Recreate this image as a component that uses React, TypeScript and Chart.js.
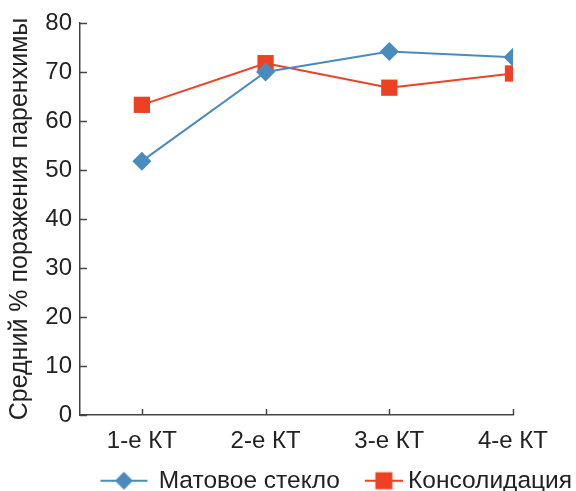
import React, { useEffect, useRef } from "react";
import { Chart, registerables } from "chart.js";

Chart.register(...registerables);

const categories = ["1-е КТ", "2-е КТ", "3-е КТ", "4-е КТ"];
const groundGlass = [51.8, 70.0, 74.2, 73.0];
const consolidation = [63.3, 71.8, 66.8, 69.7];
const seriesNames = ["Матовое стекло", "Консолидация"];
const yTitle = "Средний % поражения паренхимы";

const BLUE = "#4A8BBE";
const RED = "#EE4123";
const FONT = "'Liberation Sans', Arial, sans-serif";
const FS = 24;

// legend icon: image 70px wide, drawn centred in a 56px legend box
function legendIcon(color: string, kind: "diamond" | "square") {
  const c = document.createElement("canvas");
  c.width = 70;
  c.height = 24;
  const ctx = c.getContext("2d")!;
  const x0 = kind === "diamond" ? 17 : 32;
  const x1 = kind === "diamond" ? 64 : 70;
  const cx = (x0 + x1) / 2;
  ctx.strokeStyle = color;
  ctx.lineWidth = 2;
  ctx.beginPath();
  ctx.moveTo(x0, 12);
  ctx.lineTo(x1, 12);
  ctx.stroke();
  ctx.fillStyle = color;
  if (kind === "diamond") {
    ctx.beginPath();
    ctx.moveTo(cx, 3);
    ctx.lineTo(cx + 9, 12);
    ctx.lineTo(cx, 21);
    ctx.lineTo(cx - 9, 12);
    ctx.closePath();
    ctx.fill();
  } else {
    ctx.fillRect(cx - 8.5, 3.5, 17, 17);
  }
  return c;
}

const inwardTicks = {
  id: "inwardTicks",
  afterDraw(chart: any) {
    const ctx = chart.ctx;
    const xs = chart.scales.x;
    const ys = chart.scales.y;
    ctx.save();
    ctx.strokeStyle = "#444";
    ctx.lineWidth = 1.5;
    ys.ticks.forEach((t: any) => {
      const py = Math.round(ys.getPixelForValue(t.value)) + 0.5;
      ctx.beginPath();
      ctx.moveTo(ys.right, py);
      ctx.lineTo(ys.right + 7, py);
      ctx.stroke();
    });
    xs.ticks.forEach((t: any) => {
      const px = Math.round(xs.getPixelForValue(t.value)) + 0.5;
      ctx.beginPath();
      ctx.moveTo(px, xs.top);
      ctx.lineTo(px, xs.top - 6);
      ctx.stroke();
    });
    ctx.restore();
  },
};

export default function App() {
  const ref = useRef<HTMLCanvasElement>(null);
  useEffect(() => {
    const icons = [legendIcon(BLUE, "diamond"), legendIcon(RED, "square")];
    const chart = new Chart(ref.current!, {
      type: "line",
      data: {
        datasets: [
          {
            label: seriesNames[0],
            data: groundGlass.map((v, i) => ({ x: i + 1, y: v })),
            borderColor: BLUE,
            backgroundColor: BLUE,
            borderWidth: 2,
            pointStyle: "rectRot",
            pointRadius: 9.5,
            pointHoverRadius: 9.5,
            pointBorderWidth: 0,
          },
          {
            label: seriesNames[1],
            data: consolidation.map((v, i) => ({ x: i + 1, y: v })),
            borderColor: RED,
            backgroundColor: RED,
            borderWidth: 2,
            pointStyle: "rect",
            pointRadius: 11.5,
            pointHoverRadius: 11.5,
            pointBorderWidth: 0,
          },
        ],
      },
      options: {
        animation: false,
        responsive: false,
        layout: { padding: { left: 0, right: 4, top: 0, bottom: -12 } },
        plugins: {
          tooltip: { enabled: false },
          legend: {
            position: "bottom",
            align: "end",
            labels: {
              usePointStyle: true,
              pointStyleWidth: 56,
              color: "#222",
              font: { family: FONT, size: 24.5, lineHeight: 1 },
              padding: 0,
              generateLabels: (chart: any) =>
                chart.data.datasets.map((ds: any, i: number) => ({
                  text: ds.label,
                  pointStyle: icons[i],
                  fillStyle: ds.backgroundColor,
                  strokeStyle: ds.borderColor,
                  lineWidth: 0,
                  hidden: false,
                  datasetIndex: i,
                  fontColor: "#222",
                })),
            },
          },
        },
        scales: {
          x: {
            type: "linear",
            min: 0.5,
            max: 4,
            grid: { display: false, drawTicks: false },
            border: { display: true, color: "#444", width: 1.5 },
            ticks: {
              stepSize: 1,
              includeBounds: false,
              padding: 12,
              color: "#222",
              font: { family: FONT, size: FS },
              callback: (v: any) => categories[Number(v) - 1] ?? "",
            },
            afterFit: (s: any) => {
              s.height = 53.5;
              s.paddingRight = 63;
            },
          },
          y: {
            min: 0,
            max: 80,
            grid: { display: false, drawTicks: false },
            border: { display: true, color: "#444", width: 1.5 },
            ticks: {
              stepSize: 10,
              padding: 8,
              color: "#222",
              font: { family: FONT, size: FS },
            },
            title: {
              display: true,
              text: yTitle,
              color: "#222",
              font: { family: FONT, size: 25 },
              padding: { top: 5, bottom: 0 },
            },
            afterFit: (s: any) => {
              s.width = 80;
              s.paddingTop = 23;
            },
          },
        },
      },
      plugins: [inwardTicks],
    } as any);
    return () => chart.destroy();
  }, []);
  return (
    <div style={{ position: "fixed", left: 0, top: 0, width: 576, height: 491, background: "#fff" }}>
      <canvas ref={ref} width={576} height={491} />
    </div>
  );
}
